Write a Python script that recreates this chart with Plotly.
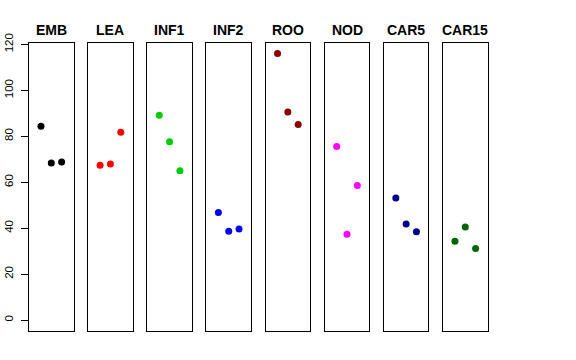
import plotly.graph_objects as go

categories = ["EMB", "LEA", "INF1", "INF2", "ROO", "NOD", "CAR5", "CAR15"]
colors = ["#000000", "#FF0000", "#00CD00", "#0000FF", "#8B0000", "#FF00FF", "#00008B", "#006400"]
replicate = [1, 2, 3]
EMB = [84.4, 68.4, 68.8]
LEA = [67.4, 67.9, 81.8]
INF1 = [89.2, 77.6, 65.0]
INF2 = [46.8, 38.7, 39.6]
ROO = [116.0, 90.6, 85.1]
NOD = [75.6, 37.4, 58.6]
CAR5 = [53.1, 41.8, 38.4]
CAR15 = [34.3, 40.5, 31.1]
values = [EMB, LEA, INF1, INF2, ROO, NOD, CAR5, CAR15]
y_ticks = [0, 20, 40, 60, 80, 100, 120]

W, H = 576, 360
left0, step, pw = 29.0, 59.14, 44.6
top_px, bot_px = 42.7, 330.7
title_px = 29.7

fig = go.Figure()
layout = dict(
    width=W, height=H, margin=dict(l=0, r=0, t=0, b=0, autoexpand=False),
    paper_bgcolor="white", plot_bgcolor="white", showlegend=False,
    font=dict(family="Liberation Sans, Arial, sans-serif", color="black"),
    annotations=[],
)
for i, (cat, col, vals) in enumerate(zip(categories, colors, values)):
    sfx = "" if i == 0 else str(i + 1)
    fig.add_trace(go.Scatter(
        x=replicate, y=vals, mode="markers",
        marker=dict(color=col, size=7, line=dict(width=0)),
        xaxis="x" + sfx, yaxis="y" + sfx, hoverinfo="skip",
    ))
    x0 = (left0 + step * i) / W
    x1 = (left0 + step * i + pw) / W
    layout["xaxis" + sfx] = dict(
        domain=[x0, x1], range=[-0.16, 4.16], anchor="y" + sfx,
        showgrid=False, zeroline=False, showticklabels=False, ticks="",
        showline=True, mirror=True, linecolor="black", linewidth=1,
        fixedrange=True, automargin=False,
    )
    ya = dict(
        domain=[1 - bot_px / H, 1 - top_px / H], range=[-4.64, 120.75],
        anchor="x" + sfx, showgrid=False, zeroline=False,
        showline=True, mirror=True, linecolor="black", linewidth=1,
        fixedrange=True, automargin=False,
    )
    if i == 0:
        ya.update(tickmode="array", tickvals=y_ticks, ticktext=[str(t) for t in y_ticks],
                  ticks="outside", ticklen=7, tickwidth=1, tickcolor="black",
                  tickangle=-90, tickfont=dict(size=11.5, color="black"),
                  ticklabelstandoff=3)
    else:
        ya.update(showticklabels=False, ticks="")
    layout["yaxis" + sfx] = ya
    layout["annotations"].append(dict(
        text="<b>" + cat + "</b>", x=(x0 + x1) / 2, y=1 - title_px / H,
        xref="paper", yref="paper", xanchor="center", yanchor="middle",
        showarrow=False, font=dict(size=14, color="black"),
    ))

fig.update_layout(**layout)
fig.write_html("out.html", config={"displayModeBar": False, "staticPlot": True},
               post_script="document.body.style.margin='0';")
